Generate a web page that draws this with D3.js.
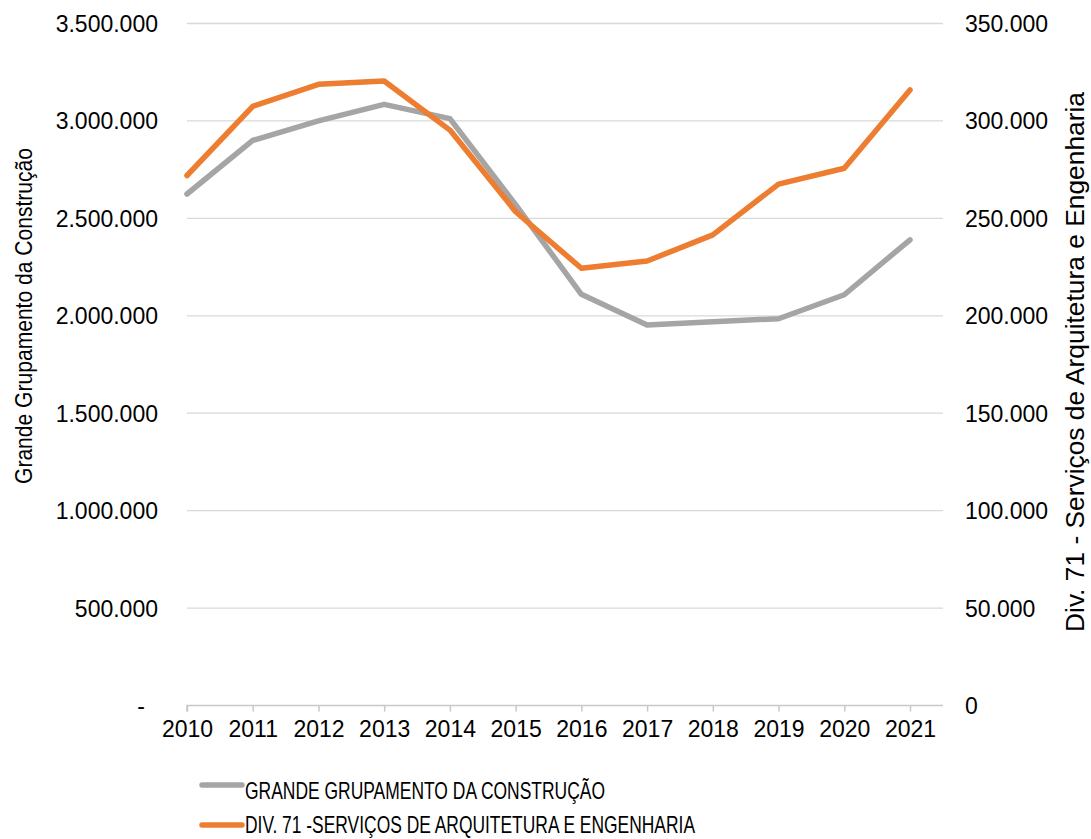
<!DOCTYPE html>
<html>
<head>
<meta charset="utf-8">
<script src="https://cdn.jsdelivr.net/npm/d3@7"></script>
<style>
  body { margin: 0; background: #fff; }
  text { font-family: "Liberation Sans", Arial, sans-serif; fill: #000; }
</style>
</head>
<body>
<div id="chart"></div>
<script>
// data
var years = ["2010", "2011", "2012", "2013", "2014", "2015", "2016", "2017", "2018", "2019", "2020", "2021"];
var construcao = [2625000, 2900000, 3000000, 3085000, 3012000, 2570000, 2110000, 1953000, 1970000, 1985000, 2108000, 2390000];
var div71 = [272000, 307500, 318800, 320500, 295300, 253400, 224400, 228100, 241500, 267600, 275700, 315900];
var leftTicks = [0, 500000, 1000000, 1500000, 2000000, 2500000, 3000000, 3500000];
var rightTicks = [0, 50000, 100000, 150000, 200000, 250000, 300000, 350000];
var legendLabels = ["GRANDE GRUPAMENTO DA CONSTRUÇÃO", "DIV. 71 -SERVIÇOS DE ARQUITETURA E ENGENHARIA"];

var svgWidth = 1091;
var svgHeight = 839;

var plot = { left: 187, right: 943, top: 23.5, bottom: 705.5 };

var svg = d3.select("#chart")
  .append("svg")
  .attr("width", svgWidth)
  .attr("height", svgHeight);

var pt = d3.formatLocale({ decimal: ",", thousands: ".", grouping: [3], currency: ["R$", ""] });
var fmt = pt.format(",.0f");

var x = d3.scalePoint()
  .domain(years)
  .range([plot.left, 910]);

var yLeft = d3.scaleLinear()
  .domain([0, 3500000])
  .range([plot.bottom, plot.top]);

var yRight = d3.scaleLinear()
  .domain([0, 350000])
  .range([plot.bottom, plot.top]);

// gridlines
svg.append("g")
  .selectAll("line")
  .data(leftTicks.slice(1))
  .enter()
  .append("line")
  .attr("x1", plot.left)
  .attr("x2", plot.right)
  .attr("y1", d => yLeft(d))
  .attr("y2", d => yLeft(d))
  .attr("stroke", "#d9d9d9")
  .attr("stroke-width", 1.3);

// left axis labels
var leftAxis = d3.axisLeft(yLeft)
  .tickValues(leftTicks)
  .tickSize(0)
  .tickPadding(0)
  .tickFormat(d => d === 0 ? "-" : fmt(d));

var gl = svg.append("g")
  .attr("transform", "translate(158,0)")
  .call(leftAxis);
gl.select(".domain").remove();
gl.selectAll("text")
  .attr("font-size", 23)
  .attr("font-family", "Liberation Sans, Arial, sans-serif")
  .attr("fill", "#000")
  .attr("dy", "0.35em");
gl.selectAll("text").filter(d => d === 0).attr("dx", -13);

// right axis labels
var rightAxis = d3.axisRight(yRight)
  .tickValues(rightTicks)
  .tickSize(0)
  .tickPadding(0)
  .tickFormat(d => fmt(d));

var gr = svg.append("g")
  .attr("transform", "translate(965,0)")
  .call(rightAxis);
gr.select(".domain").remove();
gr.selectAll("text")
  .attr("font-size", 23)
  .attr("font-family", "Liberation Sans, Arial, sans-serif")
  .attr("fill", "#000")
  .attr("dy", "0.35em");

// bottom axis
var bottomAxis = d3.axisBottom(x)
  .tickSize(6)
  .tickPadding(9);

var gb = svg.append("g")
  .attr("transform", `translate(0, ${plot.bottom})`)
  .call(bottomAxis);
gb.select(".domain")
  .attr("d", `M${plot.left},6V0H${plot.right}`)
  .attr("stroke", "#c8c8c8")
  .attr("stroke-width", 1.5);
gb.selectAll(".tick line").attr("stroke", "#c8c8c8").attr("stroke-width", 1.5);
gb.selectAll("text")
  .attr("font-size", 23)
  .attr("font-family", "Liberation Sans, Arial, sans-serif")
  .attr("fill", "#000");

// lines
var lineLeft = d3.line()
  .x((d, i) => x(years[i]))
  .y(d => yLeft(d));

var lineRight = d3.line()
  .x((d, i) => x(years[i]))
  .y(d => yRight(d));

svg.append("path")
  .datum(construcao)
  .attr("d", lineLeft)
  .attr("fill", "none")
  .attr("stroke", "#a5a5a5")
  .attr("stroke-width", 5.5)
  .attr("stroke-linejoin", "round")
  .attr("stroke-linecap", "round");

svg.append("path")
  .datum(div71)
  .attr("d", lineRight)
  .attr("fill", "none")
  .attr("stroke", "#ed7d31")
  .attr("stroke-width", 5.5)
  .attr("stroke-linejoin", "round")
  .attr("stroke-linecap", "round");

// axis titles
svg.append("text")
  .attr("text-anchor", "middle")
  .attr("font-size", 24)
  .attr("textLength", 336)
  .attr("lengthAdjust", "spacingAndGlyphs")
  .attr("transform", "translate(32,316) rotate(-90)")
  .text("Grande Grupamento da Construção");

svg.append("text")
  .attr("text-anchor", "middle")
  .attr("font-size", 25)
  .attr("textLength", 540)
  .attr("lengthAdjust", "spacingAndGlyphs")
  .attr("transform", "translate(1084,362) rotate(-90)")
  .text("Div. 71 - Serviços de Arquitetura e Engenharia");

// legend
var legendColors = ["#a5a5a5", "#ed7d31"];
var legendY = [785, 825];
var legendBase = [799, 833];
var legendLen = [360, 450];
var legend = svg.append("g");
legendLabels.forEach(function(label, i) {
  legend.append("line")
    .attr("x1", 202)
    .attr("x2", 242)
    .attr("y1", legendY[i])
    .attr("y2", legendY[i])
    .attr("stroke", legendColors[i])
    .attr("stroke-width", 5.5)
    .attr("stroke-linecap", "round");
  legend.append("text")
    .attr("x", 245)
    .attr("y", legendBase[i])
    .attr("font-size", 24)
    .attr("textLength", legendLen[i])
    .attr("lengthAdjust", "spacingAndGlyphs")
    .text(label);
});
</script>
</body>
</html>
